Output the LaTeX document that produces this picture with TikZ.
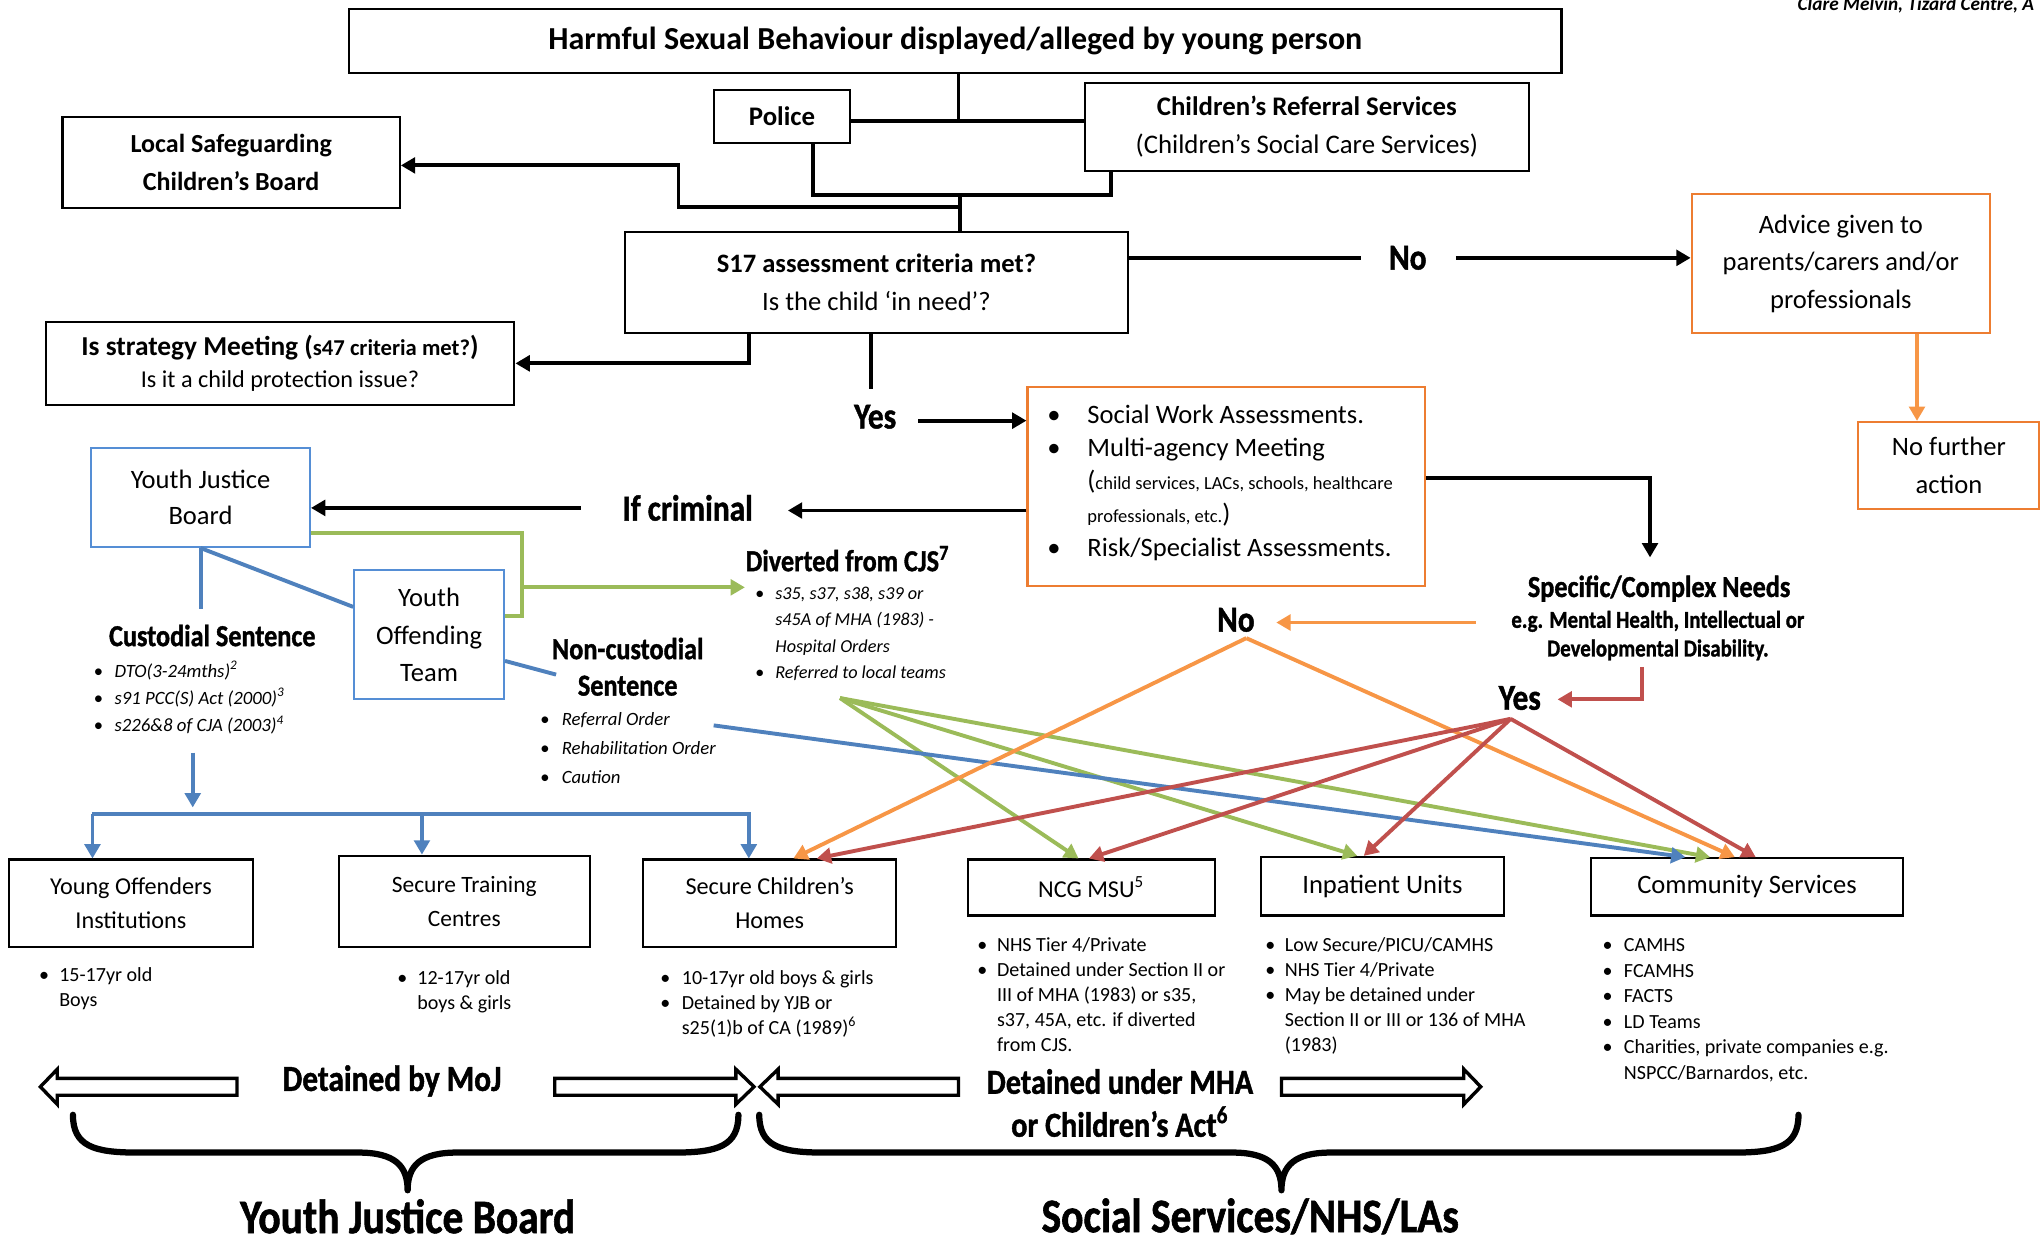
\documentclass[tikz,border=0pt]{standalone}
\usepackage{fontspec}
\setmainfont{Carlito}
\newfontfamily\hfont{Carlito}[FakeStretch=0.86, FakeBold=1.2]
\usetikzlibrary{arrows.meta,calc}

\definecolor{lnblue}{HTML}{4F81BD}
\definecolor{lngreen}{HTML}{9BBB59}
\definecolor{lnorange}{HTML}{F79646}
\definecolor{lnred}{HTML}{C0504D}
\definecolor{bxorange}{HTML}{ED7D31}
\definecolor{bxblue}{HTML}{558ED5}

\newcommand\fs[2]{\fontsize{#1}{#2}\selectfont}
\newlength\bulw
\newcommand\bu{\makebox[\bulw][l]{\makebox[0pt]{\textbullet}}}
\newcommand\blist[2]{\setlength\bulw{#1}\begin{tabular}[t]{@{}l@{}l@{}}#2\end{tabular}}

\tikzset{
  box/.style={draw, line width=0.8pt, inner sep=0pt, align=center},
  obox/.style={box, draw=bxorange},
  bbox/.style={box, draw=bxblue},
  sz/.style 2 args={minimum width=#1pt, minimum height=#2pt},
  ahead/.style={-{Triangle[length=5.5pt,width=6pt]}},
  kconn/.style={line width=1.5pt, black, line join=miter},
  karrow/.style={kconn, ahead},
  bconn/.style={line width=1.5pt, lnblue},
  barrow/.style={bconn, ahead},
  gconn/.style={line width=1.5pt, lngreen},
  garrow/.style={gconn, ahead},
  oarrow/.style={line width=1.5pt, lnorange, ahead},
  rarrow/.style={line width=1.5pt, lnred, ahead},
  lst/.style={anchor=base west, inner sep=0pt, font=\fs{7.7}{9.6}},
  ilst/.style={anchor=base west, inner sep=0pt},
  hd/.style={inner sep=0pt, align=center},
  blk/.style={draw, fill=white, line width=1.3pt, line join=miter},
  brc/.style={line width=2.4pt, line cap=round, line join=round},
}

\begin{document}
\begin{tikzpicture}[x=0.5pt, y=-0.5pt]
\useasboundingbox (0,0) rectangle (1568,954);

% ---------- top boxes ----------
\node[box, sz={465.5}{24.5}, font=\bfseries\fs{12.3}{14}] (title) at (733.5,31.5)
  {Harmful Sexual Behaviour displayed/alleged by young person};
\node[box, sz={52.5}{20.5}, font=\bfseries\fs{10.3}{14}] (police) at (600.5,89.5) {Police};
\node[box, sz={170.5}{33.5}, font=\fs{10.3}{14.5}] (crs) at (1003.5,97.5)
  {\textbf{Children’s Referral Services}\\(Children’s Social Care Services)};
\node[box, sz={129.5}{35}, font=\bfseries\fs{10}{14.5}] (lscb) at (177.5,125)
  {Local Safeguarding\\Children’s Board};
\node[box, sz={193}{39}, font=\fs{10.2}{14.5}] (s17) at (673,217)
  {\textbf{S17 assessment criteria met?}\\Is the child ‘in need’?};
\node[box, sz={180}{32}, font=\fs{9.3}{12}] (strat) at (215,279)
  {{\bfseries\fs{10.5}{12}Is strategy Meeting ({\fs{8.7}{12}s47 criteria met?})}\\Is it a child protection issue?};
\node[obox, sz={114.5}{53.5}, font=\fs{10.2}{14.5}] (advice) at (1413.5,202.5)
  {Advice given to\\parents/carers and/or\\professionals};
\node[obox, sz={69.5}{33.5}, font=\fs{10.2}{14.5}] (nfa) at (1496.5,357.5) {No further\\action};

% ---------- assessment box ----------
\node[obox, sz={152.5}{76.5}] (sw) at (941.5,373.5) {};
\node[ilst, font=\fs{10.2}{12.75}] (swlist) at (809,325)
  {\blist{12.8pt}{\bu & Social Work Assessments.\\
   \bu & Multi-agency Meeting\\
       & (\fs{7.1}{12.75}child services, LACs, schools, healthcare\\
       & \fs{7.1}{12.75}professionals, etc.\fs{10.2}{12.75})\\
   \bu & Risk/Specialist Assessments.}};

% ---------- youth justice side ----------
\node[bbox, sz={84}{38}, font=\fs{10.2}{14}] (yjb) at (154,382) {Youth Justice\\Board};
\node[bbox, sz={57.5}{49.5}, font=\fs{10.2}{14.25}] (yot) at (329.5,487.5) {Youth\\Offending\\Team};

% ---------- placements ----------
\node[box, sz={93.5}{33.5}, font=\fs{9.3}{13}] (yoi) at (100.5,693.5) {Young Offenders\\Institutions};
\node[box, sz={96.5}{35}, font=\fs{9}{13}] (stc) at (356.5,692) {Secure Training\\Centres};
\node[box, sz={97}{33.5}, font=\fs{9.3}{13}] (sch) at (591,693.5) {Secure Children’s\\Homes};
\node[box, sz={95}{21.5}, font=\fs{9.3}{13}] (ncg) at (838,681.5) {NCG MSU\textsuperscript{5}};
\node[box, sz={93.5}{22.5}, font=\fs{10.2}{13}] (iu) at (1061.5,680.5) {Inpatient Units};
\node[box, sz={119.5}{22}, font=\fs{10.2}{13}] (cs) at (1341.5,681) {Community Services};

% ---------- lists under placements ----------
\node[lst] (yoil) at (33.5,753.6) {\blist{5.8pt}{\bu & 15-17yr old\\ & Boys}};
\node[lst] (stcl) at (308.5,755.6) {\blist{5.8pt}{\bu & 12-17yr old\\ & boys \& girls}};
\node[lst] (schl) at (510.6,755.6) {\blist{6.3pt}{\bu & 10-17yr old boys \& girls\\
  \bu & Detained by YJB or\\ & s25(1)b of CA (1989)\textsuperscript{6}}};
\node[lst] (ncgl) at (754,730.6) {\blist{5.6pt}{\bu & NHS Tier 4/Private\\
  \bu & Detained under Section II or\\ & III of MHA (1983) or s35,\\
  & s37, 45A, etc. if diverted\\ & from CJS.}};
\node[lst] (iul) at (975,730.6) {\blist{5.6pt}{\bu & Low Secure/PICU/CAMHS\\
  \bu & NHS Tier 4/Private\\ \bu & May be detained under\\
  & Section II or III or 136 of MHA\\ & (1983)}};
\node[lst, font=\fs{7.7}{9.8}] (csl) at (1234,730.6) {\blist{6.3pt}{\bu & CAMHS\\ \bu & FCAMHS\\
  \bu & FACTS\\ \bu & LD Teams\\ \bu & Charities, private companies e.g.\\ & NSPCC/Barnardos, etc.}};

% ---------- italic lists ----------
\node[ilst, font=\itshape\fs{7.2}{10.5}] (custl) at (75,520) {\blist{6.3pt}{%
  \bu & DTO(3-24mths)\textsuperscript{2}\\ \bu & s91 PCC(S) Act (2000)\textsuperscript{3}\\
  \bu & s226\&8 of CJA (2003)\textsuperscript{4}}};
\node[ilst, font=\itshape\fs{7.2}{11.25}] (ncustl) at (418,557) {\blist{6.5pt}{%
  \bu & Referral Order\\ \bu & Rehabilitation Order\\ \bu & Caution}};
\node[ilst, font=\itshape\fs{7}{10.2}] (divl) at (583,460) {\blist{6pt}{%
  \bu & s35, s37, s38, s39 or\\ & s45A of MHA (1983) -\\ & Hospital Orders\\
  \bu & Referred to local teams}};

% ---------- headings ----------
\node[hd, font=\hfont\bfseries\fs{14}{16}] (no1) at (1081,198) {No};
\node[hd, font=\hfont\bfseries\fs{14}{16}] (yes1) at (672,320) {Yes};
\node[hd, font=\hfont\bfseries\fs{14}{16}] (crim) at (528,390) {If criminal};
\node[hd, font=\hfont\bfseries\fs{11.7}{14}] (div) at (651,429) {Diverted from CJS\textsuperscript{7}};
\node[hd, font=\hfont\bfseries\fs{11.7}{14}] (cust) at (163,488) {Custodial Sentence};
\node[hd, font=\hfont\bfseries\fs{11.7}{14}] (ncust) at (482,512) {Non-custodial\\Sentence};
\node[hd, font=\hfont\bfseries\fs{11.7}{14}] (spec) at (1274,452) {Specific/Complex Needs};
\node[hd, font=\hfont\bfseries\fs{9.3}{11}] (specsub) at (1273,488)
  {e.g. Mental Health, Intellectual or\\Developmental Disability.};
\node[hd, font=\hfont\bfseries\fs{14}{16}] (no2) at (949,476) {No};
\node[hd, font=\hfont\bfseries\fs{14}{16}] (yes2) at (1167,536) {Yes};
\node[hd, font=\hfont\bfseries\fs{14}{16}] (moj) at (301,830) {Detained by MoJ};
\node[hd, font=\hfont\bfseries\fs{13.5}{16.5}] (mha) at (860,847) {Detained under MHA\\or Children’s Act\textsuperscript{6}};
\node[hd, font=\hfont\bfseries\fs{18.5}{20}] (yjbb) at (313,934) {Youth Justice Board};
\node[hd, font=\hfont\bfseries\fs{18.5}{20}] (ssb) at (960,934) {Social Services/NHS/LAs};
\node[anchor=base west, inner sep=0pt, font=\bfseries\itshape\fs{7.4}{9}] (author) at (1380,8)
  {Clare Melvin, Tizard Centre, A};

% ---------- black connectors ----------
\coordinate (ja) at (736,93);
\draw[kconn] (title.south -| ja) -- (ja);
\draw[kconn] (police.east |- ja) -- (crs.west |- ja);
\coordinate (jb) at (624,150);
\coordinate (jc) at (853,150);
\draw[kconn] (police.south -| jb) -- (jb) -- (jc) -- (crs.south -| jc);
\coordinate (jd) at (737,150);
\draw[kconn] (jd) -- (s17.north -| jd);
\coordinate (je) at (737,159);
\coordinate (jf) at (521,159);
\coordinate (jg) at (521,127);
\draw[karrow] (je) -- (jf) -- (jg) -- (lscb.east |- jg);
\coordinate (jh) at (575,279);
\draw[karrow] (s17.south -| jh) -- (jh) -- (strat.east |- jh);
\coordinate (ji) at (669,299);
\draw[kconn] (s17.south -| ji) -- (ji);
\coordinate (jj) at (705,323);
\draw[karrow] (jj) -- (sw.west |- jj);
\coordinate (jk) at (1045,198);
\coordinate (jl) at (1118,198);
\draw[kconn] (s17.east |- jk) -- (jk);
\draw[karrow] (jl) -- (advice.west |- jl);
\coordinate (jm) at (1472,0);
\draw[oarrow] (advice.south -| jm) -- (nfa.north -| jm);
\coordinate (jn) at (605,392);
\draw[karrow] (sw.west |- jn) -- (jn);
\coordinate (jo) at (446,390);
\draw[karrow] (jo) -- (yjb.east |- jo);
\coordinate (jp) at (1267,367);
\coordinate (jq) at (1267,428);
\draw[karrow] (sw.east |- jp) -- (jp) -- (jq);

% ---------- needs decision ----------
\coordinate (ko) at (1133,478);
\coordinate (kn) at (980,478);
\draw[oarrow] (ko) -- (kn);
\coordinate (kr1) at (1261,512);
\coordinate (kr2) at (1261,537);
\coordinate (kr3) at (1196,537);
\draw[rarrow] (kr1) -- (kr2) -- (kr3);

% ---------- youth justice links ----------
\coordinate (ya) at (154,468);
\draw[bconn] (yjb.south) -- (ya);
\coordinate (yb) at (272,466);
\draw[bconn] (yjb.south) -- (yot.west |- yb);
\coordinate (yc) at (427,518);
\draw[bconn] ($(yot.east)+(0,20)$) -- (yc);
\coordinate (g1) at (401,409);
\coordinate (g2) at (401,473);
\draw[gconn] (yjb.east |- g1) -- (g1) -- (g2) -- (yot.east |- g2);
\coordinate (g3) at (401,451);
\coordinate (g4) at (572,451);
\draw[garrow] (g3) -- (g4);

% ---------- custodial placements ----------
\coordinate (c1) at (148,578);
\coordinate (c2) at (148,620);
\draw[barrow] (c1) -- (c2);
\coordinate (bl) at (71,625);
\coordinate (bm) at (324,625);
\coordinate (br) at (575,625);
\draw[barrow] (bl) -- (yoi.north -| bl);
\draw[barrow, line join=miter] (bl) -- (br) -- (sch.north -| br);
\draw[barrow] (bm) -- (stc.north -| bm);

% ---------- fan-out to placements ----------
\coordinate (noapex) at (957,490);
\coordinate (yesapex) at (1160,552);
\coordinate (divapex) at (645,536);
\coordinate (ncapex) at (548,557);
\draw[garrow] (divapex) -- ($(ncg.north west)+(86,0)$);
\draw[garrow] (divapex) -- ($(iu.north west)+(75,0)$);
\draw[garrow] (divapex) -- ($(cs.north west)+(92,0)$);
\draw[barrow] (ncapex) -- ($(cs.north west)+(73,0)$);
\draw[oarrow] (noapex) -- ($(sch.north west)+(116,0)$);
\draw[oarrow] (noapex) -- ($(cs.north west)+(111,0)$);
\draw[rarrow] (yesapex) -- ($(sch.north west)+(134,0)$);
\draw[rarrow] (yesapex) -- ($(ncg.north west)+(94,0)$);
\draw[rarrow] (yesapex) -- ($(iu.north west)+(80,0)$);
\draw[rarrow] (yesapex) -- ($(cs.north west)+(127,0)$);

% ---------- block arrows ----------
\draw[blk] (31,834.5) -- (44,821) -- (44,828) -- (182,828) -- (182,841) -- (44,841) -- (44,848) -- cycle;
\draw[blk] (579,834.5) -- (565,821) -- (565,828) -- (426,828) -- (426,841) -- (565,841) -- (565,848) -- cycle;
\draw[blk] (583.5,834.5) -- (597.5,821) -- (597.5,828) -- (736,828) -- (736,841) -- (597.5,841) -- (597.5,848) -- cycle;
\draw[blk] (1137,834.5) -- (1124,821) -- (1124,828) -- (984,828) -- (984,841) -- (1124,841) -- (1124,848) -- cycle;

% ---------- braces ----------
\draw[brc] (56,856) .. controls (56,880) and (72,885) .. (105,885) -- (275,885)
  .. controls (303,885) and (313,895) .. (313,914)
  .. controls (313,895) and (323,885) .. (351,885) -- (518,885)
  .. controls (551,885) and (567,880) .. (567,856);
\draw[brc] (583,856) .. controls (583,880) and (599,885) .. (632,885) -- (946,885)
  .. controls (974,885) and (984,895) .. (984,914)
  .. controls (984,895) and (994,885) .. (1022,885) -- (1332,885)
  .. controls (1365,885) and (1381,880) .. (1381,856);
\end{tikzpicture}
\end{document}
